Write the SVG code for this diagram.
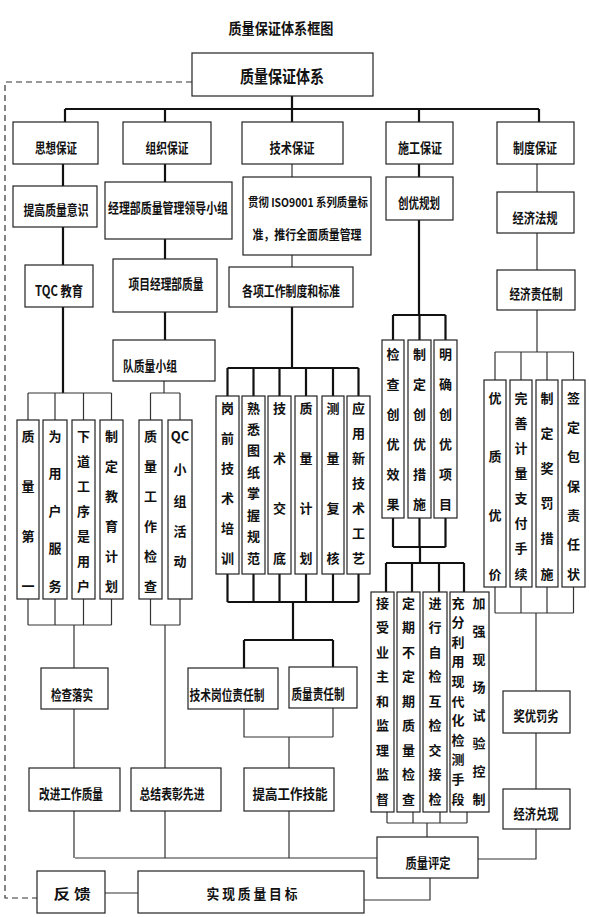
<svg xmlns="http://www.w3.org/2000/svg" width="589" height="917" viewBox="0 0 589 917">
<style>
.b{fill:#fff;stroke:#222;stroke-width:1.2}
.t{font-family:"Noto Sans CJK SC","Noto Sans CJK JP",sans-serif;font-weight:700;font-size:14px;fill:#111;text-anchor:middle;dominant-baseline:central}
.v{font-family:"Noto Sans CJK SC","Noto Sans CJK JP",sans-serif;font-weight:700;font-size:13px;fill:#111;text-anchor:middle;dominant-baseline:central}
.k{fill:none;stroke:#111;stroke-width:2.2}
.n{fill:none;stroke:#333;stroke-width:1.2}
.d{fill:none;stroke:#333;stroke-width:1.2;stroke-dasharray:6 4}
</style>
<text class="t" x="281" y="27" style="font-size:15px" textLength="105" lengthAdjust="spacingAndGlyphs">质量保证体系框图</text>
<g id="connectors">
<path class="d" d="M192 82H5V898H37"/>
<path class="k" d="M292 96V109M65 109H539M65 109V122M165 109V122M292 109V122M419 109V122M539 109V122"/>
<path class="k" d="M63 164V186M63 227V265M63 307V393"/>
<path class="n" d="M28 393H111.5M28 393V420M55 393V420M83.5 393V420M111.5 393V420"/>
<path class="n" d="M28 599V625M55 599V625M83.5 599V625M111.5 599V625M28 625H111.5M74 625V668M74 709V768M74 811V858"/>
<path class="k" d="M165 164V182M165 239V259M165 312V340"/>
<path class="n" d="M164 381V393M150.5 393H180M150.5 393V420M180 393V420M150.5 599V625M180 599V625M150.5 625H180M165 625V768M165 811V858"/>
<path class="n" d="M292 164V177M292 255V267"/>
<path class="k" d="M292 307V368M227.5 368H358.5M227.5 368V396M253.5 368V396M279.5 368V396M306 368V396M333 368V396M358.5 368V396"/>
<path class="k" d="M227.5 574V602M253.5 574V602M279.5 574V602M306 574V602M333 574V602M358.5 574V602M227.5 602H358.5M293 602V640M244 640H333M244 640V668M333 640V667"/>
<path class="n" d="M244 709V737H333M333 708V737M289 737V768M289 811V858"/>
<path class="k" d="M419 164V177M419 220V315M393 315H445.5M393 315V340M419.5 315V340M445.5 315V340"/>
<path class="k" d="M393 518V547M419.5 518V547M445.5 518V547M393 547H445.5M420 547V563M386 563H464M386 563V592M412 563V592M439 563V592M464 563V592"/>
<path class="n" d="M387 812V823M413 812V823M440 812V823M467 812V823M387 823H467M427 823V837"/>
<path class="n" d="M75 858H377M478 859H536V829"/>
<path class="n" d="M430 878V900H364M105 893H138"/>
<path class="n" d="M537 164V192M537 233V270M537 310V352M495 352H573.5M495 352V380M521 352V380M547 352V380M573.5 352V380"/>
<path class="n" d="M495 587V613M521 587V613M547 587V613M573.5 587V613M495 613H573.5M536 613V691M536 733V789"/>
</g>
<g id="n-top"><rect class="b" x="192" y="53" width="181" height="43"/><text class="t" x="282" y="75" style="font-size:17px" textLength="84" lengthAdjust="spacingAndGlyphs">质量保证体系</text></g>
<g id="n-sixiang"><rect class="b" x="13" y="122" width="85" height="42"/><text class="t" x="56" y="147" textLength="42" lengthAdjust="spacingAndGlyphs">思想保证</text></g>
<g id="n-zuzhi"><rect class="b" x="123" y="122" width="88" height="42"/><text class="t" x="167" y="147" textLength="43" lengthAdjust="spacingAndGlyphs">组织保证</text></g>
<g id="n-jishu"><rect class="b" x="242" y="122" width="101" height="42"/><text class="t" x="292" y="147" textLength="45" lengthAdjust="spacingAndGlyphs">技术保证</text></g>
<g id="n-shigong"><rect class="b" x="386" y="122" width="67" height="42"/><text class="t" x="420" y="147" textLength="44" lengthAdjust="spacingAndGlyphs">施工保证</text></g>
<g id="n-zhidu"><rect class="b" x="497" y="122" width="77" height="42"/><text class="t" x="535" y="147" textLength="44" lengthAdjust="spacingAndGlyphs">制度保证</text></g>
<g id="n-tigao"><rect class="b" x="13" y="186" width="84" height="41"/><text class="t" x="56" y="209" textLength="65" lengthAdjust="spacingAndGlyphs">提高质量意识</text></g>
<g id="n-jinglibu"><rect class="b" x="105" y="182" width="127" height="57"/><text class="t" x="168" y="207" textLength="120" lengthAdjust="spacingAndGlyphs">经理部质量管理领导小组</text></g>
<g id="n-iso"><rect class="b" x="243" y="177" width="128" height="78"/><text class="t" x="308" y="201" style="font-size:12px" textLength="120" lengthAdjust="spacingAndGlyphs">贯彻 ISO9001 系列质量标</text><text class="t" x="307" y="233" style="font-size:13px" textLength="109" lengthAdjust="spacingAndGlyphs">准，推行全面质量管理</text></g>
<g id="n-chuangyou"><rect class="b" x="386" y="177" width="67" height="43"/><text class="t" x="419" y="202" textLength="42" lengthAdjust="spacingAndGlyphs">创优规划</text></g>
<g id="n-jingjifagui"><rect class="b" x="497" y="192" width="77" height="41"/><text class="t" x="535" y="217" textLength="45" lengthAdjust="spacingAndGlyphs">经济法规</text></g>
<g id="n-tqc"><rect class="b" x="25" y="265" width="68" height="42"/><text class="t" x="59" y="290" textLength="48" lengthAdjust="spacingAndGlyphs">TQC 教育</text></g>
<g id="n-xiangmu"><rect class="b" x="113" y="259" width="104" height="53"/><text class="t" x="166" y="283" textLength="75" lengthAdjust="spacingAndGlyphs">项目经理部质量</text></g>
<g id="n-gexiang"><rect class="b" x="229" y="267" width="124" height="40"/><text class="t" x="291" y="290" textLength="98" lengthAdjust="spacingAndGlyphs">各项工作制度和标准</text></g>
<g id="n-zerenzhi"><rect class="b" x="497" y="270" width="78" height="40"/><text class="t" x="536" y="293" textLength="53" lengthAdjust="spacingAndGlyphs">经济责任制</text></g>
<g id="n-dui"><rect class="b" x="113" y="340" width="102" height="41"/><text class="t" x="150" y="365" textLength="54" lengthAdjust="spacingAndGlyphs">队质量小组</text></g>
<g id="n-v1"><rect class="b" x="17" y="420" width="22" height="179"/><text class="v" x="28 28 28 28" y="435 485 535 585">质量第一</text></g>
<g id="n-v2"><rect class="b" x="43" y="420" width="24" height="179"/><text class="v" x="55 55 55 55 55" y="435 472.5 510 547.5 585">为用户服务</text></g>
<g id="n-v3"><rect class="b" x="72" y="420" width="23" height="179"/><text class="v" x="83.5 83.5 83.5 83.5 83.5 83.5 83.5" y="435 460 485 510 535 560 585">下道工序是用户</text></g>
<g id="n-v4"><rect class="b" x="100" y="420" width="23" height="179"/><text class="v" x="111.5 111.5 111.5 111.5 111.5 111.5" y="435 465 495 525 555 585">制定教育计划</text></g>
<g id="n-v5"><rect class="b" x="139" y="420" width="23" height="179"/><text class="v" x="150.5 150.5 150.5 150.5 150.5 150.5" y="435 465 495 525 555 585">质量工作检查</text></g>
<g id="n-v6"><rect class="b" x="168" y="420" width="24" height="179"/><text class="v" x="180" y="435">QC</text><text class="v" x="180 180 180 180" y="468 500 530 560">小组活动</text></g>
<g id="n-t1"><rect class="b" x="216" y="396" width="23" height="178"/><text class="v" x="227.5 227.5 227.5 227.5 227.5 227.5" y="407 437 467 497 527 557">岗前技术培训</text></g>
<g id="n-t2"><rect class="b" x="242" y="396" width="23" height="178"/><text class="v" x="253.5 253.5 253.5 253.5 253.5 253.5 253.5 253.5" y="407 428.4 449.9 471.3 492.7 514.1 535.6 557">熟悉图纸掌握规范</text></g>
<g id="n-t3"><rect class="b" x="268" y="396" width="23" height="178"/><text class="v" x="279.5 279.5 279.5 279.5" y="407 457 507 557">技术交底</text></g>
<g id="n-t4"><rect class="b" x="295" y="396" width="22" height="178"/><text class="v" x="306 306 306 306" y="407 457 507 557">质量计划</text></g>
<g id="n-t5"><rect class="b" x="322" y="396" width="22" height="178"/><text class="v" x="333 333 333 333" y="407 457 507 557">测量复核</text></g>
<g id="n-t6"><rect class="b" x="347" y="396" width="23" height="178"/><text class="v" x="358.5 358.5 358.5 358.5 358.5 358.5 358.5" y="407 432 457 482 507 532 557">应用新技术工艺</text></g>
<g id="n-c1"><rect class="b" x="382" y="340" width="22" height="178"/><text class="v" x="393 393 393 393 393 393" y="353 383 413 443 473 503">检查创优效果</text></g>
<g id="n-c2"><rect class="b" x="408" y="340" width="23" height="178"/><text class="v" x="419.5 419.5 419.5 419.5 419.5 419.5" y="353 383 413 443 473 503">制定创优措施</text></g>
<g id="n-c3"><rect class="b" x="434" y="340" width="23" height="178"/><text class="v" x="445.5 445.5 445.5 445.5 445.5 445.5" y="353 383 413 443 473 503">明确创优项目</text></g>
<g id="n-z1"><rect class="b" x="484" y="380" width="22" height="207"/><text class="v" x="495 495 495 495" y="397 455.7 514.3 573">优质优价</text></g>
<g id="n-z2"><rect class="b" x="510" y="380" width="22" height="207"/><text class="v" x="521 521 521 521 521 521 521 521" y="397 422.1 447.3 472.4 497.6 522.7 547.9 573">完善计量支付手续</text></g>
<g id="n-z3"><rect class="b" x="536" y="380" width="22" height="207"/><text class="v" x="547 547 547 547 547 547" y="397 432.2 467.4 502.6 537.8 573">制定奖罚措施</text></g>
<g id="n-z4"><rect class="b" x="562" y="380" width="23" height="207"/><text class="v" x="573.5 573.5 573.5 573.5 573.5 573.5 573.5" y="397 426.3 455.7 485 514.3 543.7 573">签定包保责任状</text></g>
<g id="n-s1"><rect class="b" x="371" y="592" width="23" height="220"/><text class="v" x="382.5 382.5 382.5 382.5 382.5 382.5 382.5 382.5 382.5" y="602 626.5 651 675.5 700 724.5 749 773.5 798">接受业主和监理监督</text></g>
<g id="n-s2"><rect class="b" x="397" y="592" width="23" height="220"/><text class="v" x="408.5 408.5 408.5 408.5 408.5 408.5 408.5 408.5 408.5" y="602 626.5 651 675.5 700 724.5 749 773.5 798">定期不定期质量检查</text></g>
<g id="n-s3"><rect class="b" x="423" y="592" width="24" height="220"/><text class="v" x="435 435 435 435 435 435 435 435 435" y="602 626.5 651 675.5 700 724.5 749 773.5 798">进行自检互检交接检</text></g>
<g id="n-s4"><rect class="b" x="450" y="592" width="39" height="220"/><text class="v" x="458 458 458 458 458 458 458 458 458 458 458" y="602 621.6 641.2 660.8 680.4 700 719.6 739.2 758.8 778.4 798">充分利用现代化检测手段</text><text class="v" x="479 479 479 479 479 479 479 479" y="602 630 658 686 714 742 770 798">加强现场试验控制</text></g>
<g id="n-jiancha"><rect class="b" x="41" y="668" width="67" height="41"/><text class="t" x="72" y="694" textLength="42" lengthAdjust="spacingAndGlyphs">检查落实</text></g>
<g id="n-gangwei"><rect class="b" x="188" y="668" width="90" height="41"/><text class="t" x="227" y="694" textLength="75" lengthAdjust="spacingAndGlyphs">技术岗位责任制</text></g>
<g id="n-zlzrz"><rect class="b" x="289" y="667" width="68" height="41"/><text class="t" x="318" y="693" textLength="53" lengthAdjust="spacingAndGlyphs">质量责任制</text></g>
<g id="n-jiangyou"><rect class="b" x="503" y="691" width="67" height="42"/><text class="t" x="536" y="715" textLength="45" lengthAdjust="spacingAndGlyphs">奖优罚劣</text></g>
<g id="n-gaijin"><rect class="b" x="29" y="768" width="91" height="43"/><text class="t" x="71" y="793" textLength="64" lengthAdjust="spacingAndGlyphs">改进工作质量</text></g>
<g id="n-zongjie"><rect class="b" x="131" y="768" width="90" height="43"/><text class="t" x="172" y="793" textLength="65" lengthAdjust="spacingAndGlyphs">总结表彰先进</text></g>
<g id="n-jineng"><rect class="b" x="244" y="768" width="90" height="43"/><text class="t" x="290" y="793" textLength="75" lengthAdjust="spacingAndGlyphs">提高工作技能</text></g>
<g id="n-duixian"><rect class="b" x="503" y="789" width="67" height="40"/><text class="t" x="536" y="813" textLength="45" lengthAdjust="spacingAndGlyphs">经济兑现</text></g>
<g id="n-pingding"><rect class="b" x="377" y="837" width="101" height="41"/><text class="t" x="428" y="862" textLength="45" lengthAdjust="spacingAndGlyphs">质量评定</text></g>
<g id="n-fankui"><rect class="b" x="37" y="871" width="68" height="42"/><text class="t" x="72" y="893" textLength="37" lengthAdjust="spacingAndGlyphs">反  馈</text></g>
<g id="n-mubiao"><rect class="b" x="138" y="871" width="226" height="42"/><text class="t" x="252" y="893" textLength="91" lengthAdjust="spacingAndGlyphs">实 现 质 量 目 标</text></g>
</svg>
